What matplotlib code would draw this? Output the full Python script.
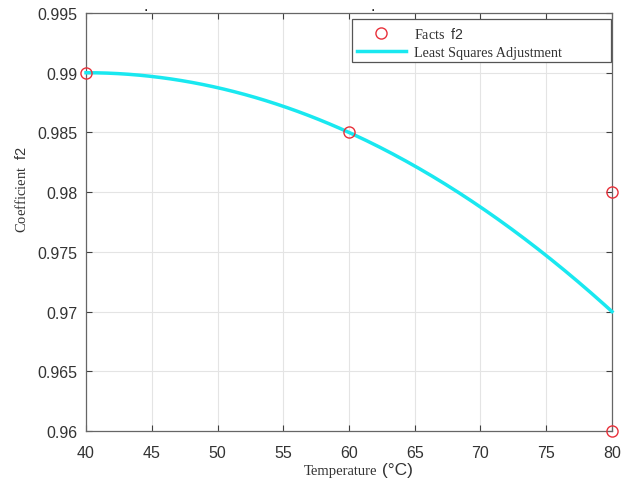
import numpy as np
import matplotlib
matplotlib.use('Agg')
import matplotlib.pyplot as plt
from matplotlib.patches import Rectangle
from matplotlib.ticker import FuncFormatter

# ================= data =================
temp_facts = [40, 60, 80, 80]
f2_facts = [0.990, 0.985, 0.980, 0.960]
x_ticks = [40, 45, 50, 55, 60, 65, 70, 75, 80]
y_ticks = [0.96, 0.965, 0.97, 0.975, 0.98, 0.985, 0.99, 0.995]
# =========================================

# least squares adjustment (2nd order) of the facts
coef = np.polyfit(temp_facts, f2_facts, 2)
t_fit = np.linspace(min(temp_facts), max(temp_facts), 200)
f_fit = np.polyval(coef, t_fit)

# "f2" is set in a sans font inside serif labels (mathtext sf)
plt.rcParams['mathtext.fontset'] = 'custom'
plt.rcParams['mathtext.sf'] = 'Liberation Sans'

serif = ['Liberation Serif', 'DejaVu Serif']
sans = ['Liberation Sans', 'DejaVu Sans']
text_gray = '#333333'

fig = plt.figure(figsize=(6.21, 4.85), dpi=100)
ax = fig.add_axes([0.1385, 0.1093, 0.847, 0.8618])

ax.plot(temp_facts, f2_facts, 'o', mfc='none', mec='#e8303a', mew=1.0, ms=8,
        label=r'Facts  $\mathsf{f2}$', zorder=4, clip_on=False)
ax.plot(t_fit, f_fit, color='#19e8f0', lw=2.5, label='Least Squares Adjustment',
        zorder=3, clip_on=False)

ax.set_xlim(40, 80)
ax.set_ylim(0.96, 0.995)
ax.set_xticks(x_ticks)
ax.set_yticks(y_ticks)
ax.yaxis.set_major_formatter(FuncFormatter(lambda v, p: '%g' % round(v, 4)))
ax.grid(True, color='#e4e4e4', lw=0.8)
ax.set_axisbelow(True)
ax.tick_params(direction='in', top=True, right=True, length=4, width=0.8,
               colors='#404040', labelsize=11.5, pad=6)
ax.tick_params(axis='x', pad=10)
for lab in ax.get_xticklabels() + ax.get_yticklabels():
    lab.set_family(sans)
    lab.set_color(text_gray)
for s in ax.spines.values():
    s.set_color('#666666')
    s.set_linewidth(0.9)

# legend box is wider than its entries, as in the MATLAB original
ax.add_patch(Rectangle((0.5057, 0.8828), 0.4923, 0.1028, transform=ax.transAxes,
                       facecolor='white', edgecolor='#555555', lw=0.9, zorder=5,
                       clip_on=False))
leg = ax.legend(loc='upper left', bbox_to_anchor=(0.515, 0.969), frameon=False,
                borderpad=0, borderaxespad=0, handlelength=3.45,
                handletextpad=0.55, labelspacing=0.35,
                prop={'family': serif, 'size': 10.2})
leg.set_zorder(6)
for txt in leg.get_texts():
    txt.set_color(text_gray)

# y label
ax.text(-0.122, 0.579, r'Coefficient  $\mathsf{f2}$', rotation=90,
        transform=ax.transAxes, ha='center', va='center', family=serif,
        fontsize=10.5, color=text_gray)

# x label, "Temperature" serif followed by sans "(°C)"
t1 = ax.text(0.553, -0.078, 'Temperature', transform=ax.transAxes, ha='right',
             va='top', family=serif, fontsize=10.5, color=text_gray)
ax.annotate(' (°C)', xy=(1, 0), xycoords=t1, va='bottom', ha='left',
            family=sans, fontsize=12.5, color=text_gray)

# stray dots above the plot area
fig.text(146 / 621, 1 - 7 / 485, '.', fontsize=10, ha='center', va='center')
fig.text(373 / 621, 1 - 7 / 485, '.', fontsize=10, ha='center', va='center')

fig.savefig('out.png', dpi=100)
